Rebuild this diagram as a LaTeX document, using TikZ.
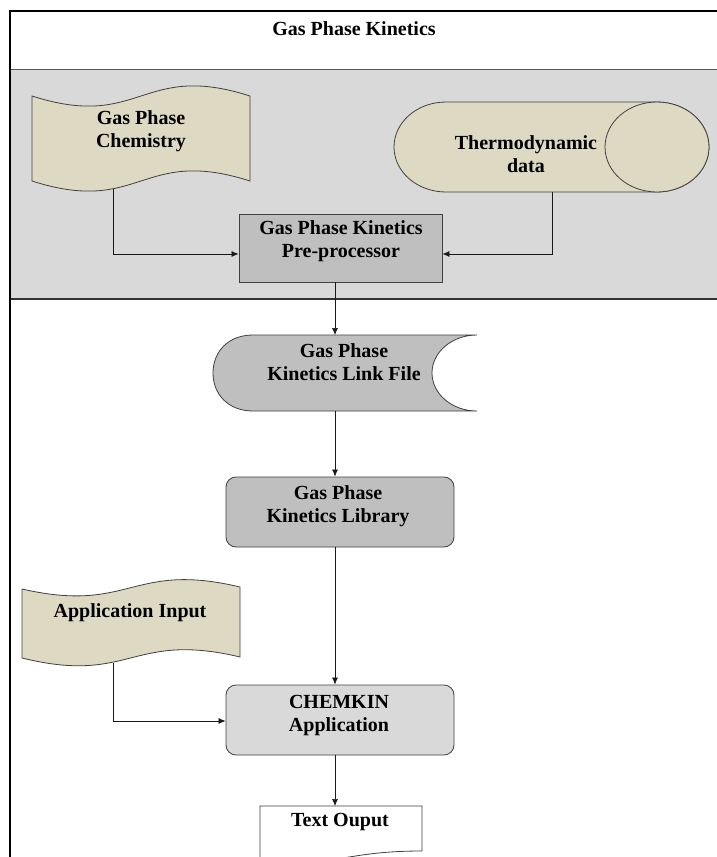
\documentclass[tikz,border=0pt]{standalone}
\usepackage{fontspec}
\setmainfont{Liberation Serif}
\usetikzlibrary{arrows.meta}
\definecolor{bandgray}{HTML}{D9D9D9}
\definecolor{tanfill}{HTML}{DDD9C3}
\definecolor{midgray}{HTML}{BFBFBF}
\definecolor{lightbox}{HTML}{D9D9D9}
\definecolor{linegray}{HTML}{404040}
\begin{document}
\begin{tikzpicture}[x=1pt,y=-1pt,
  shapeline/.style={draw=linegray, line width=0.8pt},
  lbl/.style={font=\bfseries\fontsize{20}{23}\selectfont, align=center, inner sep=0pt},
  conn/.style={draw=black!90, line width=0.7pt, -{Latex[length=7pt,width=6pt]}},
  boxnode/.style={shapeline, minimum width=#1, minimum height=70pt, inner sep=0pt},
]
\useasboundingbox (0,0) rectangle (717,857);
\fill[white] (0,0) rectangle (717,857);
% gray band
\fill[bandgray] (10,69) rectangle (717,299);
\draw[draw=black!65, line width=0.8pt] (10,69) -- (717,69);
\draw[draw=black!80, line width=1.5pt] (10,299) -- (717,299);
% frame
\draw[black, line width=2pt] (717,11) -- (10,11) -- (10,857);

% Gas Phase Chemistry (punched tape)
\path[shapeline, fill=tanfill]
  (32,96) .. controls (141,131) and (141,61) .. (250,96)
  -- (250,181) .. controls (141,146) and (141,216) .. (32,181)
  -- cycle;
\coordinate (chemout) at (113,189);

% Thermodynamic data (horizontal cylinder)
\path[shapeline, fill=tanfill]
  (446,102) -- (657,102)
  .. controls (685.7,102) and (709,122.1) .. (709,147)
  .. controls (709,171.9) and (685.7,192) .. (657,192)
  -- (446,192)
  .. controls (417.3,192) and (394,171.9) .. (394,147)
  .. controls (394,122.1) and (417.3,102) .. (446,102) -- cycle;
\draw[shapeline, fill=tanfill] (657,147) ellipse [x radius=52, y radius=45];
\coordinate (thermout) at (552,192);

% Pre-processor
\node[boxnode=203pt, minimum height=68pt, fill=midgray] (pre) at (340.5,248) {};

% Link file (stored data)
\path[shapeline, fill=midgray]
  (253,335) -- (477,335)
  .. controls (452.1,335) and (432,352) .. (432,373)
  .. controls (432,394) and (452.1,411) .. (477,411)
  -- (253,411)
  .. controls (228,411) and (213,394) .. (213,373)
  .. controls (213,352) and (228,335) .. (253,335) -- cycle;
\coordinate (linkin) at (335,335);
\coordinate (linkout) at (335,411);

% Library
\node[boxnode=228pt, rounded corners=10pt, fill=midgray] (lib) at (340,512) {};

% Application input (punched tape)
\path[shapeline, fill=tanfill]
  (22,589) .. controls (131,614) and (131,561) .. (240,587)
  -- (240,657) .. controls (131,631) and (131,685) .. (22,658)
  -- cycle;
\coordinate (appout) at (113,663);

% CHEMKIN application
\node[boxnode=228pt, rounded corners=10pt, fill=lightbox] (ck) at (340,720) {};

% Text output (document)
\path[shapeline, fill=white]
  (260,806) -- (422,806) -- (422,851)
  .. controls (341,851) and (341,868) .. (260,858) -- cycle;
\coordinate (txtin) at (335,806);

% connectors
\draw[conn] (chemout) |- ([yshift=-6pt]pre.west);
\draw[conn] (thermout) |- ([yshift=-6pt]pre.east);
\draw[conn] ([xshift=-5.5pt]pre.south) -- (linkin);
\draw[conn] (linkout) -- ([xshift=-5pt]lib.north);
\draw[conn] ([xshift=-5pt]lib.south) -- ([xshift=-5pt]ck.north);
\draw[conn] (appout) |- ([yshift=-1pt]ck.west);
\draw[conn] ([xshift=-5pt]ck.south) -- (txtin);

% labels
\node[lbl] (tTitle) at (354,29) {Gas Phase Kinetics};
\node[lbl] (tChem) at (141,131) {Gas Phase\\Chemistry};
\node[lbl] (tThermo) at (526,154) {Thermodynamic\\data};
\node[lbl] (tPre) at (341,241.5) {Gas Phase Kinetics\\Pre-processor};
\node[lbl] (tLink) at (344,362.5) {Gas Phase\\Kinetics Link File};
\node[lbl] (tLib) at (338,506.5) {Gas Phase\\Kinetics Library};
\node[lbl] (tApp) at (130,613) {Application Input};
\node[lbl] (tCk) at (339,715) {CHEMKIN\\Application};
\node[lbl] (tOut) at (340,822) {Text Ouput};
\end{tikzpicture}
\end{document}
